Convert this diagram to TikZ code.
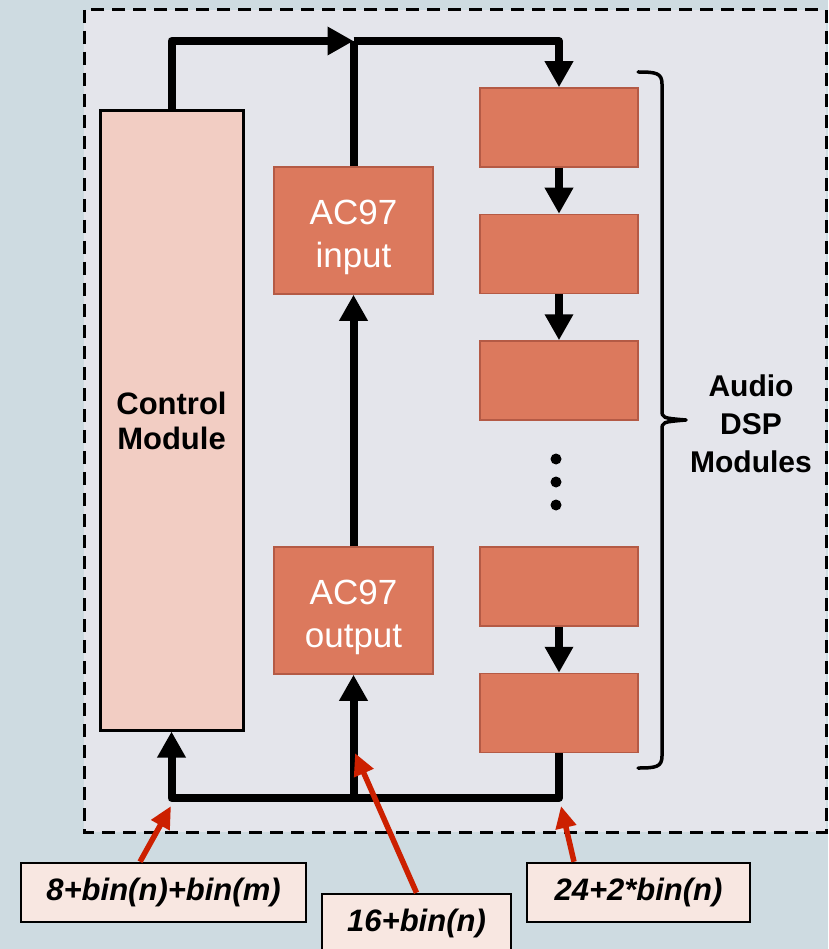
\documentclass[tikz,border=0pt]{standalone}
\usepackage{fontspec}
\setmainfont{Liberation Sans}
\usetikzlibrary{arrows.meta}
\definecolor{outerbg}{HTML}{CEDBE1}
\definecolor{innerbg}{HTML}{E4E5EB}
\definecolor{ctrlfill}{HTML}{F2CDC3}
\definecolor{dspfill}{HTML}{DC795D}
\definecolor{dspedge}{HTML}{B45A45}
\definecolor{labfill}{HTML}{F8E7E1}
\definecolor{redarrow}{HTML}{CC2000}
\begin{document}
\begin{tikzpicture}[x=1pt,y=-1pt,
  ctrlbox/.style={draw=black, line width=3pt, fill=ctrlfill, minimum width=143pt, minimum height=619pt, inner sep=0pt, font=\bfseries\fontsize{31}{35}\selectfont, align=center},
  dspbox/.style={draw=dspedge, line width=1.5pt, fill=dspfill, minimum width=158pt, minimum height=79pt, inner sep=0pt},
  acbox/.style={dspbox, minimum width=159pt, minimum height=127pt},
  actext/.style={text=white, font=\fontsize{35}{43}\selectfont, align=center, inner sep=0pt},
  labbox/.style={draw=black, line width=2.5pt, fill=labfill, minimum height=59pt, inner sep=0pt, font=\bfseries\itshape\fontsize{31}{35}\selectfont},
  wire/.style={line width=8pt, line join=round},
  arr/.style={-{Triangle[width=27pt,length=26pt]}},
  redarr/.style={draw=redarrow, line width=5.5pt, -{Triangle[width=20pt,length=22pt]}},
  bracestyle/.style={line width=3.5pt, line cap=round, line join=round}
]
\useasboundingbox (0,0) rectangle (828,949);
\fill[outerbg] (0,0) rectangle (828,949);
\draw[black, line width=3pt, dash pattern=on 13pt off 8pt, fill=innerbg] (84,10) rectangle (826,832);

% boxes
\node[ctrlbox] (ctrl) at (171.5,420.5) {Control\\Module};
\node[acbox] (acin) at (353.5,230.5) {};
\node[actext] (acintext) at ([yshift=-7pt]acin.center) {AC97\\input};
\node[acbox] (acout) at (353.5,610.5) {};
\node[actext] (acouttext) at ([yshift=-7pt]acout.center) {AC97\\output};
\node[dspbox] (dsp1) at (559,127.5) {};
\node[dspbox] (dsp2) at (559,254) {};
\node[dspbox] (dsp3) at (559,380.5) {};
\node[dspbox] (dsp4) at (559,586.5) {};
\node[dspbox] (dsp5) at (559,713) {};

% dots
\fill (556,459) circle (5.5pt);
\fill (556,482) circle (5.5pt);
\fill (556,505) circle (5.5pt);

% top wires
\coordinate (jt) at (353.5,41);
\draw[wire,arr] (ctrl.north) |- (jt);
\draw[wire] (acin.north) -- (jt);
\draw[wire,arr] (jt) -| (dsp1.north);

% dsp chain
\draw[wire,arr] (dsp1.south) -- (dsp2.north);
\draw[wire,arr] (dsp2.south) -- (dsp3.north);
\draw[wire,arr] (dsp4.south) -- (dsp5.north);

% ac97 link
\draw[wire,arr] (acout.north) -- (acin.south);

% bottom wires
\coordinate (bl) at (171.5,798);
\coordinate (bm) at (353.5,798);
\coordinate (br) at (559,798);
\draw[wire,arr] (dsp5.south) -- (br) -- (bl) -- (ctrl.south);
\draw[wire,arr] (bm) -- (acout.south);

% brace
\draw[bracestyle] (638,72) .. controls (656,72) and (662,73) .. (662,84) -- (662,410)
  .. controls (662,418) .. (686,420) .. controls (662,422) .. (662,430) -- (662,756)
  .. controls (662,767) and (656,768) .. (638,768);
\node[font=\bfseries\fontsize{30}{38}\selectfont, align=center] (dsplab) at (751,424) {Audio\\DSP\\Modules};

% labels
\node[labbox, minimum width=285pt] (lab1) at (163.5,892.5) {8+bin(n)+bin(m)};
\node[labbox, minimum width=189pt] (lab2) at (416.5,923.5) {16+bin(n)};
\node[labbox, minimum width=223pt] (lab3) at (638.5,892.5) {24+2*bin(n)};

% red arrows
\coordinate (t1) at (171,806);
\coordinate (t2) at (355,753);
\coordinate (t3) at (561,806);
\draw[redarr] ([xshift=-23.5pt]lab1.north) -- (t1);
\draw[redarr] (lab2.north) -- (t2);
\draw[redarr] ([xshift=-64.5pt]lab3.north) -- (t3);
\end{tikzpicture}
\end{document}
